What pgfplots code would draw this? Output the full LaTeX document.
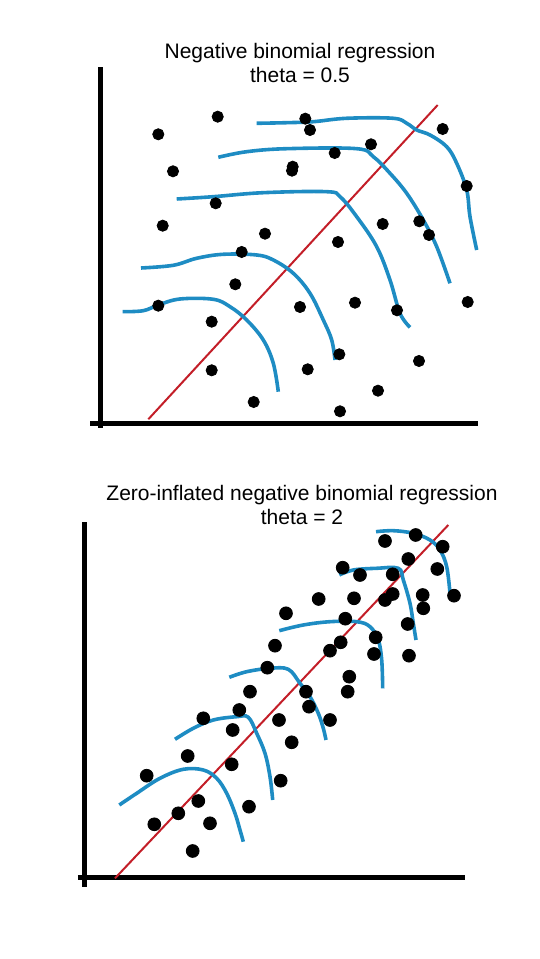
\documentclass[border=0pt]{standalone}
\usepackage{fontspec}
\setmainfont{Liberation Sans}
\usepackage{pgfplots}
\pgfplotsset{compat=1.18}
\definecolor{curveblue}{RGB}{30,140,195}
\definecolor{fitred}{RGB}{195,30,40}
\pgfplotsset{
  sketch/.style={
    x=0.5pt, y=0.5pt, scale only axis, anchor=south west,
    axis lines=left, xtick=\empty, ytick=\empty,
    axis line style={-, line width=2.5pt, black},
    clip=false,
  },
  dots/.style={only marks, mark=*, mark options={fill=black, draw=black}},
  fit/.style={no marks, fitred, line width=1pt},
  crv/.style={no marks, curveblue, line width=1.8pt, smooth, tension=0.6},
}
\begin{document}
\begin{tikzpicture}
\useasboundingbox (0,0) rectangle (270pt,479.5pt);
% ---------------- Top panel ----------------
\begin{axis}[sketch, at={(50pt,267.5pt)},
  xmin=100, xmax=478, ymin=535, ymax=892,
  x axis line style={shorten <=-5pt},
  y axis line style={shorten <=-2pt}]
\addplot[fit] coordinates {(148.3,539.7) (437.7,854)};
\addplot[crv] coordinates {(122.7,647.3) (143.3,648.3) (158.3,654) (180,660) (213.3,659.7) (230,652.3) (246.7,639) (263.3,619) (273.3,595.7) (278.3,567.3)};
\addplot[crv] coordinates {(141,691) (173.3,693.7) (196.7,700.7) (223.3,704.7) (256.7,704) (273.3,699) (293.3,685.7) (310,665.7) (323.3,639) (331.7,619) (335,599)};
\addplot[crv] coordinates {(176.7,760) (213.3,762.3) (263.3,766.3) (326.7,767.3) (340,762.3) (356.7,742.3) (376.7,712.3) (390,679) (400,645.7) (410,631.7)};
\addplot[crv] coordinates {(218.3,801.7) (246.7,807.3) (286.7,810.3) (356.7,810.3) (373.3,802.3) (390,785.7) (406.7,765.7) (423.3,739) (436.7,712.3) (450,675.7)};
\addplot[crv] coordinates {(256.7,835.7) (286.7,836.3) (313.3,837.3) (346.7,840.7) (393.3,840.7) (406.7,835.7) (416.7,829) (430,824) (446.7,812.3) (456.7,795.7) (466.7,769) (470,742.3) (476.7,709)};
\addplot[dots, mark size=2.8pt] coordinates {
(217.7,842.3) (158.3,824.7) (305.3,840.3) (310,829) (442.7,830) (371,814.7)
(334.7,806) (292.7,792.3) (292,788.3) (173,787.7) (466.7,773) (215.7,755.7)
(162.7,733.3) (265,725.3) (382.7,735) (419.3,737.7) (429,724) (338,717)
(241.7,707) (235.3,674.7) (158.3,653.3) (300,652) (355,656.3) (397,648.7)
(467.7,657) (211.7,637.3) (339.3,604.7) (419,598) (211.7,588.7) (307.7,589.7)
(378,568.3) (253.7,557) (340,547.7)};
\node[align=center, font=\fontsize{10.5}{12}\selectfont, inner sep=0pt] at (axis cs:300,896) {Negative binomial regression\\theta = 0.5};
\end{axis}
% ---------------- Bottom panel ----------------
\begin{axis}[sketch, at={(42.5pt,40.5pt)},
  xmin=85, xmax=465, ymin=81, ymax=437,
  x axis line style={shorten <=-3.5pt},
  y axis line style={shorten <=-4.5pt}]
\addplot[fit] coordinates {(115,80.7) (448.3,434)};
\addplot[crv] coordinates {(119.3,154) (136.7,165.7) (160,180.7) (183.3,189.7) (203.3,189) (216.7,180.7) (226.7,165.7) (235,145.7) (240,129) (243.3,117.3)};
\addplot[crv] coordinates {(175,219.7) (193.3,230.7) (213.3,239) (236.7,242.3) (248.3,241.7) (256.7,225.7) (265,205.7) (270,182.3) (272.7,159)};
\addplot[crv] coordinates {(229.3,281.7) (246.7,287.3) (270,290.7) (288.3,289.7) (300,275.7) (310,262.3) (318.3,245.7) (323.3,230.7) (326,219)};
\addplot[crv] coordinates {(279.3,328.3) (303.3,334) (330,337.3) (356.7,337.3) (370,332.3) (378.3,319) (381.7,299) (382.7,270.7)};
\addplot[crv] coordinates {(339.3,384) (353.3,389) (376.7,390.7) (398.3,390.7) (403.3,379) (410,355.7) (413.3,335.7) (416,319)};
\addplot[crv] coordinates {(376,427.3) (393.3,428.3) (413.3,425.7) (430,419) (440,409) (446.7,392.3) (450,365.7)};
\addplot[dots, mark size=3.2pt] coordinates {
(385,418) (415.7,424) (442.7,412.3) (408.3,400) (342.7,391.3) (360,384)
(392.7,384.7) (437.3,390) (392.7,365) (385,359) (354,360.7) (318.7,360)
(422.7,364) (454,363.3) (423.3,350.7) (286,345.7) (345.3,340.3) (407.7,335)
(375.7,321.7) (340.7,316.7) (330,308.3) (275,313.3) (374,305) (409,303.3)
(267.3,291.3) (349.3,282.3) (347.7,267.3) (250,267.3) (306,267.3) (309,252.3)
(239.3,249) (203.3,240.7) (279,239) (330,239) (232.7,229) (291.7,216.7)
(187.7,203) (231.7,194.7) (146.7,183.3) (280.7,178.3) (198.3,158) (249,152.3)
(178.3,145.7) (154.3,134.7) (210,135.7) (192.7,108)};
\node[align=center, font=\fontsize{10.5}{12}\selectfont, inner sep=0pt] at (axis cs:302,454) {Zero-inflated negative binomial regression\\theta = 2};
\end{axis}
\end{tikzpicture}
\end{document}
